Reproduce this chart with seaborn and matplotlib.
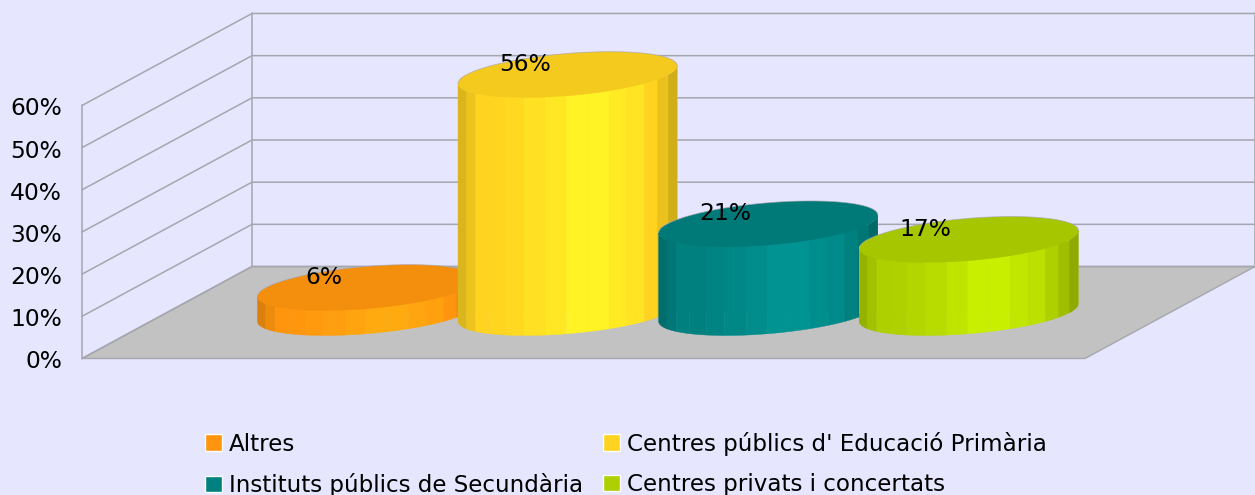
import numpy as np
import pandas as pd
import seaborn as sns
import matplotlib.pyplot as plt
from matplotlib.patches import Polygon
from matplotlib.colors import to_rgb

categories = ["Altres", "Centres públics d' Educació Primària",
              "Instituts públics de Secundària", "Centres privats i concertats"]
values = [5.9, 56.4, 21.0, 17.3]
bar_labels = ["6%", "56%", "21%", "17%"]
colors = ["#FF950E", "#FFD320", "#00807F", "#AECF00"]
y_ticks = [0, 10, 20, 30, 40, 50, 60]
y_tick_labels = ["0%", "10%", "20%", "30%", "40%", "50%", "60%"]

BG = "#E6E6FF"
GRID = "#A6A6AE"
FLOOR = "#C2C2C2"

# pixels per category / per percent, the chart is a fake 3d box
PX_X = 200.6
PX_Y = 4.217
DEPTH_X = 170 / PX_X
DEPTH_Y = 92 / PX_Y
# shading of the cylinder side, left to right, and where each band starts (share of the width)
SHADES = [0.86, 0.93, 1.0, 1.01, 1.03, 1.06, 1.10, 1.15, 1.15, 1.11, 1.08, 1.0, 0.92, 0.82]
BANDS = [0, .038, .08, .14, .217, .30, .40, .495, .59, .69, .77, .85, .91, .96, 1]


def project(x, y, depth):
    # depth 0 = front of the floor, 1 = back wall, bars stand at 0.5
    return x + (depth - 0.5) * DEPTH_X, y + (depth - 0.5) * DEPTH_Y


def shade(color, f):
    return tuple(min(1, c * f) for c in to_rgb(color))


def ring(x0, y0, t):
    a = 101 / PX_X
    b = 0.25 * DEPTH_X
    c = 0.25 * DEPTH_Y
    return x0 + a * np.cos(t) + b * np.sin(t), y0 + c * np.sin(t)


sns.set_theme(style="white", rc={"figure.facecolor": BG, "axes.facecolor": BG, "text.color": "black"})
plt.rcParams["font.family"] = ["DejaVu Sans"]

df = pd.DataFrame({"Tipus": categories, "Valor": values})

fig = plt.figure(figsize=(12.55, 4.95), dpi=100)
ax = fig.add_axes([0, 0, 1, 1])

sns.barplot(data=df, x="Tipus", y="Valor", hue="Tipus", order=categories, hue_order=categories,
            palette=colors, saturation=1, width=1.09, dodge=False, legend=True, ax=ax, errorbar=None)

ax.set_xlim(-367 / PX_X, (1255 - 367) / PX_X)
ax.set_ylim(-(495 - 312.5) / PX_Y, 312.5 / PX_Y)

x_left, x_right = -0.997, 4.003
top = y_ticks[-1]

# floor
ax.add_patch(Polygon([project(x_left, 0, 0), project(x_right, 0, 0),
                      project(x_right, 0, 1), project(x_left, 0, 1)],
                     facecolor=FLOOR, edgecolor=GRID, lw=1, zorder=0.5))

# walls
for v in y_ticks:
    xs, ys = zip(project(x_left, v, 0), project(x_left, v, 1), project(x_right, v, 1))
    ax.plot(xs, ys, color=GRID, lw=1.1, zorder=0.6, solid_joinstyle="miter")
for d in [0, 1]:
    xs, ys = zip(project(x_left, 0, d), project(x_left, top, d))
    ax.plot(xs, ys, color=GRID, lw=1.1, zorder=0.6)
xs, ys = zip(project(x_right, 0, 1), project(x_right, top, 1))
ax.plot(xs, ys, color=GRID, lw=1.1, zorder=0.6)

# cylinders, later ones sit in front
phi = np.arctan2(0.25 * DEPTH_X, 101 / PX_X)
edges = np.pi + np.arccos(1 - 2 * np.array(BANDS)) + phi
for i, (v, col) in enumerate(zip(values, colors)):
    z = 2 + i
    bar = ax.containers[i][0]
    t_front = np.linspace(np.pi, 2 * np.pi, 80) + phi
    t_back = np.linspace(0, np.pi, 80) + phi
    bx, by = ring(i, 0, t_front)
    tx, ty = ring(i, v, t_back)
    outline = np.r_[np.c_[bx, by], np.c_[tx, ty]]
    bar.set_zorder(z)
    bar.set_clip_path(Polygon(outline, transform=ax.transData))

    for k, f in enumerate(SHADES):
        t = np.linspace(edges[k], edges[k + 1], 8)
        lx, ly = ring(i, 0, t)
        ux, uy = ring(i, v, t)
        pts = np.r_[np.c_[lx, ly], np.c_[ux, uy][::-1]]
        ax.add_patch(Polygon(pts, facecolor=shade(col, f), edgecolor=shade(col, f), lw=0.3, zorder=z))

    t_all = np.linspace(0, 2 * np.pi, 160)
    ex, ey = ring(i, v, t_all)
    ax.fill(ex, ey, color=shade(col, 0.955), lw=0, zorder=z)
    ax.plot(tx, ty, color=GRID, lw=0.6, alpha=0.7, zorder=z)

    ax.annotate(bar_labels[i], (i, v), xytext=(-43 * 0.72, 10 * 0.72), textcoords="offset points",
                ha="center", va="center", fontsize=16.8, color="black", zorder=10)

# y labels, left of the front wall edge
for v, lab in zip(y_ticks, y_tick_labels):
    px, py = project(x_left, v, 0)
    ax.annotate(lab, (px, py), xytext=(-20 * 0.72, -3.5 * 0.72), textcoords="offset points",
                ha="right", va="center", fontsize=16.8, color="black")

ax.axis("off")

handles, labels = ax.get_legend_handles_labels()
order = [0, 2, 1, 3]
ax.legend([handles[k] for k in order], [labels[k] for k in order], ncols=2, frameon=False,
          loc="upper left", bbox_to_anchor=(200 / 1255, 1 - 427 / 495), borderaxespad=0, borderpad=0.2,
          fontsize=16.6, handlelength=0.74, handleheight=0.74, handletextpad=0.32,
          columnspacing=0.85, labelspacing=0.76)

fig.savefig("out.png", dpi=100, facecolor=BG)
